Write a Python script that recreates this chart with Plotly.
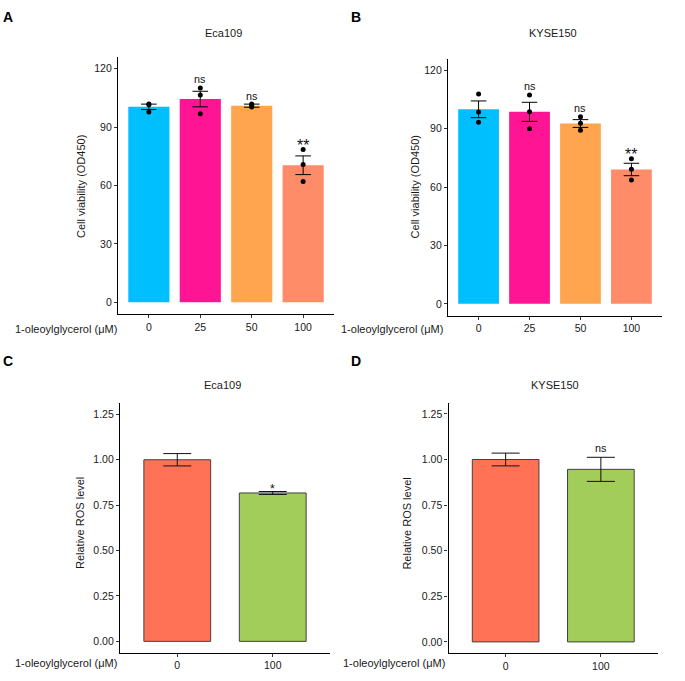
import plotly.graph_objects as go

W, H = 685, 681
FONT = "Liberation Sans, Arial, sans-serif"

# ---------------- data ----------------
via_doses = ["0", "25", "50", "100"]
via_colors = ["#00BFFF", "#FF1493", "#FFA54F", "#FF8C69"]

eca_via_mean = [100.4, 104.4, 101.0, 70.4]
eca_via_se = [1.4, 4.0, 0.8, 4.8]
eca_via_pts = [[101.9, 97.8, 101.5], [110.1, 106.5, 96.8], [101.8, 101.0, 100.3], [78.5, 70.8, 62.1]]
eca_via_sig = ["", "ns", "ns", "**"]

kyse_via_mean = [99.9, 98.6, 92.6, 69.0]
kyse_via_se = [4.3, 4.9, 2.0, 3.2]
kyse_via_pts = [[107.8, 98.5, 93.3], [107.3, 98.6, 89.9], [96.1, 92.7, 89.1], [74.5, 69.1, 63.6]]
kyse_via_sig = ["", "ns", "ns", "**"]

ros_doses = ["0", "100"]
ros_colors = ["#FF7256", "#A2CD5A"]
eca_ros_mean = [1.00, 0.817]
eca_ros_se = [0.034, 0.008]
eca_ros_sig = ["", "*"]
kyse_ros_mean = [1.00, 0.946]
kyse_ros_se = [0.035, 0.066]
kyse_ros_sig = ["", "ns"]

via_ticks = [0, 30, 60, 90, 120]
ros_ticks = [0.0, 0.25, 0.5, 0.75, 1.0, 1.25]

fig = go.Figure()

def px_x(p):
    return p / W

def px_y(p):
    return 1 - p / H

# domains (pixel-derived)
doms = {
    1: dict(x=[px_x(118), px_x(334)], y=[px_y(314), px_y(57)]),
    2: dict(x=[px_x(448), px_x(662)], y=[px_y(315.5), px_y(58.5)]),
    3: dict(x=[px_x(120), px_x(330)], y=[px_y(652.7), px_y(403)]),
    4: dict(x=[px_x(448.5), px_x(658)], y=[px_y(653.3), px_y(402.5)]),
}

def ax_names(i):
    return ("x" if i == 1 else f"x{i}"), ("y" if i == 1 else f"y{i}")

def add_via(i, mean, se, pts, sig):
    xa, ya = ax_names(i)
    fig.add_trace(go.Bar(x=via_doses, y=mean, width=0.8, xaxis=xa, yaxis=ya,
                         marker=dict(color=via_colors, line=dict(width=0)),
                         showlegend=False))
    fig.add_trace(go.Scatter(x=via_doses, y=mean, mode="markers", xaxis=xa, yaxis=ya,
                             marker=dict(size=1, color="rgba(0,0,0,0)"),
                             error_y=dict(type="data", array=se, color="black",
                                          thickness=1, width=7.8),
                             showlegend=False, hoverinfo="skip"))
    xs, ys = [], []
    for d, p in zip(via_doses, pts):
        for v in p:
            xs.append(d)
            ys.append(v)
    fig.add_trace(go.Scatter(x=xs, y=ys, mode="markers", xaxis=xa, yaxis=ya,
                             marker=dict(size=5, color="black"), showlegend=False))
    for k, (m, s, p, t) in enumerate(zip(mean, se, pts, sig)):
        if not t:
            continue
        top = max(max(p), m + s)
        star = t.startswith("*")
        fig.add_annotation(x=k, y=top, xref=xa, yref=ya, text=t, showarrow=False,
                           yanchor="middle", yshift=4.0 if star else 8.5,
                           font=dict(family=FONT, size=16 if star else 10.8, color="#111"))

def add_ros(i, mean, se, sig):
    xa, ya = ax_names(i)
    fig.add_trace(go.Bar(x=ros_doses, y=mean, width=0.7, xaxis=xa, yaxis=ya,
                         marker=dict(color=ros_colors, line=dict(width=1, color="#404040")),
                         error_y=dict(type="data", array=se, color="#111",
                                      thickness=1, width=14),
                         showlegend=False))
    for k, (m, s, t) in enumerate(zip(mean, se, sig)):
        if not t:
            continue
        star = t.startswith("*")
        fig.add_annotation(x=k, y=m + s, xref=xa, yref=ya, text=t, showarrow=False,
                           yanchor="middle", yshift=3.0 if star else 9.8,
                           font=dict(family=FONT, size=12.5 if star else 10.8, color="#111"))

add_via(1, eca_via_mean, eca_via_se, eca_via_pts, eca_via_sig)
add_via(2, kyse_via_mean, kyse_via_se, kyse_via_pts, kyse_via_sig)
add_ros(3, eca_ros_mean, eca_ros_se, eca_ros_sig)
add_ros(4, kyse_ros_mean, kyse_ros_se, kyse_ros_sig)

axis_common = dict(showline=True, linecolor="black", linewidth=1.3, showgrid=False,
                   zeroline=False, ticks="outside", ticklen=3, tickwidth=1,
                   tickcolor="#333", tickfont=dict(family=FONT, size=10.5, color="#1a1a1a"))

layout = dict(width=W, height=H, margin=dict(l=0, r=0, t=0, b=0), autosize=False,
              plot_bgcolor="white", paper_bgcolor="white", bargap=0.2,
              font=dict(family=FONT, color="#222"))

for i in range(1, 5):
    xk = "xaxis" if i == 1 else f"xaxis{i}"
    yk = "yaxis" if i == 1 else f"yaxis{i}"
    xa, ya = ax_names(i)
    if i <= 2:
        xr = [-0.6, 3.6]
        yr = [-6, 126]
        ytv = via_ticks
        ytt = [str(v) for v in via_ticks]
    else:
        xr = [-0.6, 1.6]
        yr = [-0.0625, 1.3125]
        ytv = ros_ticks
        ytt = [f"{v:.2f}" for v in ros_ticks]
    layout[xk] = dict(axis_common, domain=doms[i]["x"], range=xr, type="category",
                      anchor=ya)
    layout[yk] = dict(axis_common, domain=doms[i]["y"], range=yr, tickvals=ytv,
                      ticktext=ytt, anchor=xa)

fig.update_layout(**layout)

def pa(text, x, y, size=11, bold=False, angle=0, xanchor="center"):
    fig.add_annotation(text=f"<b>{text}</b>" if bold else text, x=px_x(x), y=px_y(y),
                       xref="paper", yref="paper", showarrow=False, textangle=angle,
                       xanchor=xanchor, yanchor="middle",
                       font=dict(family=FONT, size=size, color="black" if bold else "#1a1a1a"))

# panel letters
pa("A", 7.5, 17, size=14, bold=True)
pa("B", 355.5, 17, size=14, bold=True)
pa("C", 8, 360.5, size=14, bold=True)
pa("D", 355.5, 360.8, size=14, bold=True)

# titles
pa("Eca109", 223, 33)
pa("KYSE150", 552.7, 33)
pa("Eca109", 222.7, 385.3)
pa("KYSE150", 554.7, 384.7)

# y-axis titles
pa("Cell viability (OD450)", 81.7, 186.3, angle=-90)
pa("Cell viability (OD450)", 414.7, 186.7, angle=-90)
pa("Relative ROS level", 80, 523, angle=-90)
pa("Relative ROS level", 407.3, 523.3, angle=-90)

# x-axis label
xl = "1-oleoylglycerol (μM)"
pa(xl, 119, 329, xanchor="right")
pa(xl, 445, 329, xanchor="right")
pa(xl, 119, 662.7, xanchor="right")
pa(xl, 447, 662.7, xanchor="right")

fig.write_html("out.html", config={"displayModeBar": False},
               post_script="document.body.style.margin='0';document.body.style.padding='0';")
